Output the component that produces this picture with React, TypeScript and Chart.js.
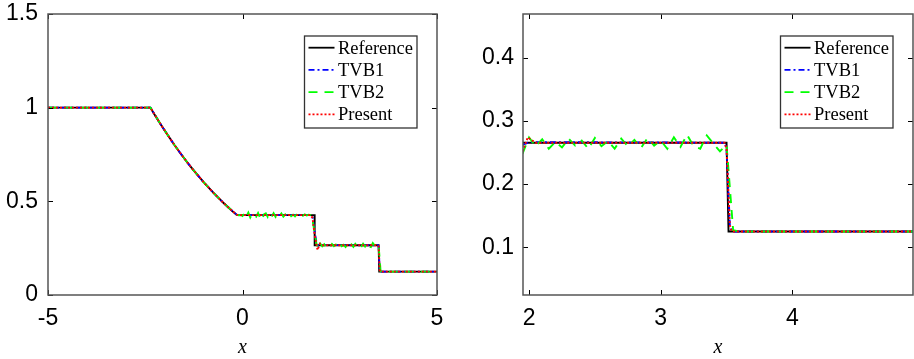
import React, { useEffect, useRef } from 'react';
import { Chart, registerables } from 'chart.js';

Chart.register(...registerables);

// ---- data (density, Sod problem) ----
const fanX = [-5, -2.366, -2.25, -2.125, -2, -1.875, -1.75, -1.625, -1.5, -1.375, -1.25, -1.125, -1, -0.875, -0.75, -0.625, -0.5, -0.375, -0.25];
const fanY = [1, 1, 0.960, 0.918, 0.878, 0.839, 0.801, 0.765, 0.730, 0.696, 0.664, 0.633, 0.603, 0.574, 0.546, 0.520, 0.494, 0.470, 0.446];

const refTailX = [-0.14, 1.855, 1.855, 3.500, 3.515, 5];
const refTailY = [0.4263, 0.4263, 0.2656, 0.2656, 0.125, 0.125];

const tvb1TailX = [-0.15, -0.1, 1.75, 1.80, 1.85, 1.90, 1.95, 2.00, 3.485, 3.50, 3.525, 3.54, 5];
const tvb1TailY = [0.429, 0.4265, 0.4263, 0.418, 0.345, 0.282, 0.262, 0.2665, 0.2656, 0.256, 0.135, 0.125, 0.125];

const presentTailX = [-0.15, -0.1, 1.75, 1.80, 1.85, 1.90, 1.93, 1.99, 2.05, 3.485, 3.50, 3.525, 3.54, 5];
const presentTailY = [0.429, 0.4265, 0.4263, 0.412, 0.33, 0.27, 0.24, 0.274, 0.2656, 0.2656, 0.256, 0.135, 0.125, 0.125];

const tvb2Start = -0.15;
const tvb2Step = 0.05;
const tvb2Y = [
  0.429, 0.426, 0.427, 0.422, 0.436, 0.418, 0.440, 0.414, 0.433, 0.427,
  0.418, 0.438, 0.412, 0.401, 0.430, 0.436, 0.416, 0.433, 0.419, 0.437,
  0.417, 0.431, 0.421, 0.435, 0.418, 0.430, 0.420, 0.434, 0.421, 0.429,
  0.420, 0.432, 0.423, 0.429, 0.423, 0.430, 0.424, 0.428, 0.426, 0.405,
  0.335, 0.275, 0.248, 0.274, 0.260, 0.271, 0.256, 0.267, 0.258, 0.272,
  0.261, 0.269, 0.256, 0.273, 0.260, 0.268, 0.256, 0.272, 0.260, 0.270,
  0.257, 0.273, 0.261, 0.269, 0.256, 0.274, 0.259, 0.278, 0.260, 0.256,
  0.277, 0.264, 0.252, 0.262, 0.127, 0.125,
];
const tvb2EndX = 5;
const tvb2EndY = 0.125;

const leftXTicks = [-5, 0, 5];
const leftYTicks = [0, 0.5, 1, 1.5];
const rightXTicks = [2, 3, 4];
const rightYTicks = [0.1, 0.2, 0.3, 0.4];

const legendLabels = ['Reference', 'TVB1', 'TVB2', 'Present'];

// ---- build point lists ----
const zip = (xs: number[], ys: number[]) => xs.map((x, i) => ({ x, y: ys[i] }));
const refPts = [...zip(fanX, fanY), ...zip(refTailX, refTailY)];
const tvb1Pts = [...zip(fanX, fanY), ...zip(tvb1TailX, tvb1TailY)];
const presentPts = [...zip(fanX, fanY), ...zip(presentTailX, presentTailY)];
const tvb2Pts = [
  ...zip(fanX.slice(0, -1), fanY.slice(0, -1)),
  ...tvb2Y.map((y, i) => ({ x: +(tvb2Start + i * tvb2Step).toFixed(3), y })),
  { x: tvb2EndX, y: tvb2EndY },
];

const styles = [
  { color: '#000000', dash: [] as number[], pts: refPts },
  { color: '#0000ff', dash: [6, 3, 2, 3], pts: tvb1Pts },
  { color: '#00ff00', dash: [9, 7], pts: tvb2Pts },
  { color: '#ff0000', dash: [2, 2], pts: presentPts },
];

const TICK_FONT = { family: '"Liberation Sans", Arial, sans-serif', size: 23 };

const framePlugin = {
  id: 'frame',
  afterDatasetsDraw(chart: any) {
    const { ctx, chartArea: a, scales } = chart;
    ctx.save();
    ctx.setLineDash([]);
    // inward ticks on all four sides
    ctx.strokeStyle = '#000';
    ctx.lineWidth = 1;
    const tl = 5;
    scales.x.ticks.forEach((t: any) => {
      const px = Math.round(scales.x.getPixelForValue(t.value)) + 0.5;
      ctx.beginPath();
      ctx.moveTo(px, a.bottom); ctx.lineTo(px, a.bottom - tl);
      ctx.moveTo(px, a.top); ctx.lineTo(px, a.top + tl);
      ctx.stroke();
    });
    scales.y.ticks.forEach((t: any) => {
      const py = Math.round(scales.y.getPixelForValue(t.value)) + 0.5;
      ctx.beginPath();
      ctx.moveTo(a.left, py); ctx.lineTo(a.left + tl, py);
      ctx.moveTo(a.right, py); ctx.lineTo(a.right - tl, py);
      ctx.stroke();
    });
    // box
    ctx.strokeStyle = '#555555';
    ctx.lineWidth = 1.5;
    ctx.strokeRect(a.left, a.top, a.right - a.left, a.bottom - a.top);

    // legend
    const bw = 112.5, bh = 92;
    const bx = a.right - 20 - bw;
    const by = a.top + 22;
    ctx.fillStyle = '#ffffff';
    ctx.fillRect(bx, by, bw, bh);
    ctx.strokeStyle = '#333333';
    ctx.lineWidth = 1.3;
    ctx.strokeRect(bx, by, bw, bh);
    ctx.font = '18.5px "Liberation Serif", "Times New Roman", serif';
    ctx.textBaseline = 'middle';
    ctx.textAlign = 'left';
    legendLabels.forEach((lab, i) => {
      const yy = by + 11.7 + 22.2 * i;
      const s = styles[i];
      ctx.strokeStyle = s.color;
      ctx.lineWidth = 1.8;
      ctx.setLineDash(s.dash);
      ctx.beginPath();
      ctx.moveTo(bx + 4, yy); ctx.lineTo(bx + 30, yy);
      ctx.stroke();
      ctx.setLineDash([]);
      ctx.fillStyle = '#000';
      ctx.fillText(lab, bx + 33.5, yy + 1);
    });
    ctx.restore();
  },
};

interface PanelCfg {
  xMin: number; xMax: number; yMin: number; yMax: number;
  xTicks: number[]; yTicks: number[];
  yWidth: number; padRight: number; yPad: number;
}

function buildConfig(c: PanelCfg): any {
  return {
    type: 'line',
    data: {
      datasets: styles.map((s, i) => ({
        label: legendLabels[i],
        data: s.pts,
        borderColor: s.color,
        borderDash: s.dash,
        borderWidth: 1.9,
        pointRadius: 0,
        tension: 0,
        fill: false,
        order: 3 - i,
      })),
    },
    options: {
      animation: false,
      responsive: false,
      devicePixelRatio: 1,
      events: [],
      layout: { padding: { top: 14, right: c.padRight, left: 0, bottom: 0 } },
      plugins: { legend: { display: false }, tooltip: { enabled: false } },
      scales: {
        x: {
          type: 'linear',
          min: c.xMin,
          max: c.xMax,
          grid: { display: false, drawTicks: false },
          border: { display: false },
          afterBuildTicks: (s: any) => { s.ticks = c.xTicks.map((v) => ({ value: v })); },
          afterFit: (s: any) => { s.height = 64; s.paddingLeft = 0; s.paddingRight = 0; },
          ticks: {
            font: TICK_FONT,
            color: '#000',
            padding: 10,
            maxRotation: 0,
            autoSkip: false,
            callback: (v: any) => String(v),
          },
          title: {
            display: true,
            text: 'x',
            color: '#000',
            font: { family: '"Liberation Serif", "Times New Roman", serif', style: 'italic', size: 20 },
            padding: { top: 0, bottom: -1 },
          },
        },
        y: {
          type: 'linear',
          min: c.yMin,
          max: c.yMax,
          grid: { display: false, drawTicks: false },
          border: { display: false },
          afterBuildTicks: (s: any) => { s.ticks = c.yTicks.map((v) => ({ value: v })); },
          afterFit: (s: any) => { s.width = c.yWidth; s.paddingTop = 0; s.paddingBottom = 0; },
          ticks: {
            font: TICK_FONT,
            color: '#000',
            padding: c.yPad,
            autoSkip: false,
            callback: (v: any) => String(v),
          },
        },
      },
    },
    plugins: [framePlugin],
  };
}

function Panel({ left, width, cfg }: { left: number; width: number; cfg: PanelCfg }) {
  const ref = useRef<HTMLCanvasElement>(null);
  useEffect(() => {
    const chart = new Chart(ref.current as HTMLCanvasElement, buildConfig(cfg));
    return () => chart.destroy();
  }, []);
  return (
    <canvas
      ref={ref}
      width={width}
      height={359}
      style={{ position: 'absolute', left, top: 0, width, height: 359 }}
    />
  );
}

export default function App() {
  return (
    <div style={{ position: 'fixed', left: 0, top: 0, width: 914, height: 359, background: '#fff', overflow: 'hidden' }}>
      <Panel
        left={0}
        width={460}
        cfg={{ xMin: -5, xMax: 5, yMin: 0, yMax: 1.5, xTicks: leftXTicks, yTicks: leftYTicks, yWidth: 48, padRight: 23, yPad: 10 }}
      />
      <Panel
        left={460}
        width={454}
        cfg={{ xMin: 1.954, xMax: 4.916, yMin: 0.0245, yMax: 0.4693, xTicks: rightXTicks, yTicks: rightYTicks, yWidth: 63, padRight: 1, yPad: 9 }}
      />
    </div>
  );
}
